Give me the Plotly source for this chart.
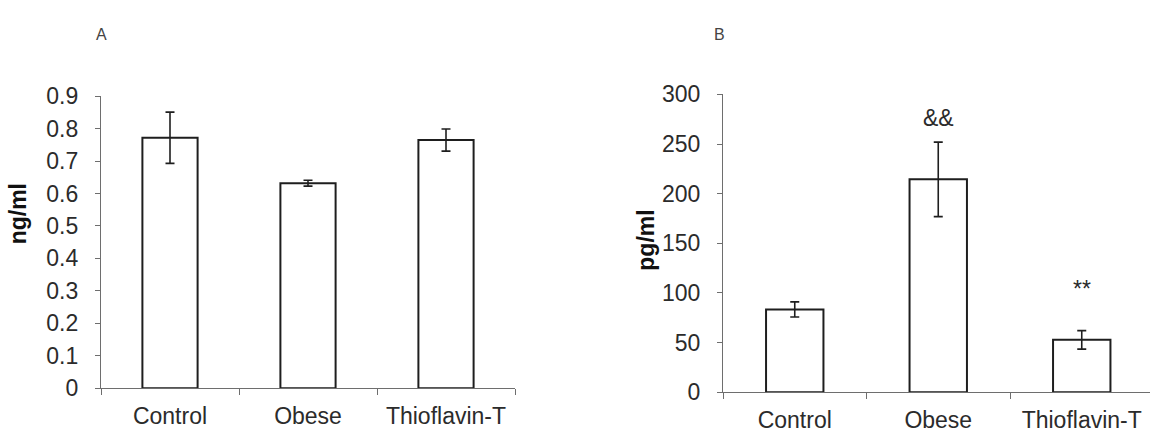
import plotly.graph_objects as go

categories = ["Control", "Obese", "Thioflavin-T"]

a_values = [0.772, 0.632, 0.765]
a_errors = [0.079, 0.009, 0.034]

b_values = [83.4, 214.4, 52.7]
b_errors = [7.6, 37.5, 9.3]

a_ticks = [0, 0.1, 0.2, 0.3, 0.4, 0.5, 0.6, 0.7, 0.8, 0.9]
a_ticktext = ["0", "0.1", "0.2", "0.3", "0.4", "0.5", "0.6", "0.7", "0.8", "0.9"]
b_ticks = [0, 50, 100, 150, 200, 250, 300]

b_marks = ["", "&&", "**"]
b_mark_y = [None, 276, 104]

FONT = "Liberation Sans, Arial, sans-serif"
TXT = "#2b2b2b"
AX = "#6e6e6e"
FS = 23

fig = go.Figure()

bar_style = dict(marker=dict(color="white", line=dict(color="#1e1e1e", width=2)),
                 width=0.4, showlegend=False)
err_style = dict(type="data", color="#1e1e1e", thickness=1.6, width=4.5, visible=True)

fig.add_trace(go.Bar(x=categories, y=a_values, error_y=dict(array=a_errors, **err_style),
                     xaxis="x", yaxis="y", **bar_style))
fig.add_trace(go.Bar(x=categories, y=b_values, error_y=dict(array=b_errors, **err_style),
                     xaxis="x2", yaxis="y2", **bar_style))

xcommon = dict(type="category", showline=True, linecolor=AX, linewidth=1.2,
               ticks="outside", tickson="boundaries", ticklen=6, tickcolor=AX,
               tickfont=dict(family=FONT, size=FS, color=TXT), showgrid=False,
               zeroline=False, ticklabelstandoff=7)
ycommon = dict(showline=True, linecolor=AX, linewidth=1.2, ticks="outside",
               ticklen=5, tickcolor=AX, tickfont=dict(family=FONT, size=FS, color=TXT),
               showgrid=False, zeroline=False, ticklabelstandoff=12)

fig.update_layout(
    width=1150, height=440,
    margin=dict(l=0, r=0, t=0, b=0),
    paper_bgcolor="white", plot_bgcolor="white",
    bargap=0.6,
    xaxis=dict(domain=[101/1150, 515/1150], range=[-0.5, 2.5], anchor="y", **xcommon),
    yaxis=dict(domain=[1-398.7/440, 1-88.5/440], range=[0, 0.9], anchor="x",
               tickvals=a_ticks, ticktext=a_ticktext, **ycommon),
    xaxis2=dict(domain=[723/1150, 1.0], range=[-0.5, 2.4756], anchor="y2", **xcommon),
    yaxis2=dict(domain=[1-403/440, 1-86.5/440], range=[0, 300], anchor="x2",
                tickvals=b_ticks, **ycommon),
)

annotations = [
    dict(text="<b>ng/ml</b>", x=18/1150, y=1-214/440, xref="paper", yref="paper",
         textangle=-90, showarrow=False, font=dict(family=FONT, size=FS, color="#111"),
         xanchor="center", yanchor="middle"),
    dict(text="<b>pg/ml</b>", x=646/1150, y=1-242/440, xref="paper", yref="paper",
         textangle=-90, showarrow=False, font=dict(family=FONT, size=FS, color="#111"),
         xanchor="center", yanchor="middle"),
    dict(text="A", x=102/1150, y=1-23/440, xref="paper", yref="paper", showarrow=False,
         font=dict(family=FONT, size=16, color="#444"), xanchor="center", yanchor="middle"),
    dict(text="B", x=719/1150, y=1-23/440, xref="paper", yref="paper", showarrow=False,
         font=dict(family=FONT, size=16, color="#444"), xanchor="center", yanchor="middle"),
]
for cat, mark, yv in zip(categories, b_marks, b_mark_y):
    if mark:
        annotations.append(dict(text=mark, x=cat, y=yv, xref="x2", yref="y2", showarrow=False,
                                font=dict(family=FONT, size=FS, color=TXT),
                                xanchor="center", yanchor="middle"))
fig.update_layout(annotations=annotations)

fig.write_html("out.html", config={"displayModeBar": False},
               post_script="document.body.style.margin='0';document.body.style.overflow='hidden';")
